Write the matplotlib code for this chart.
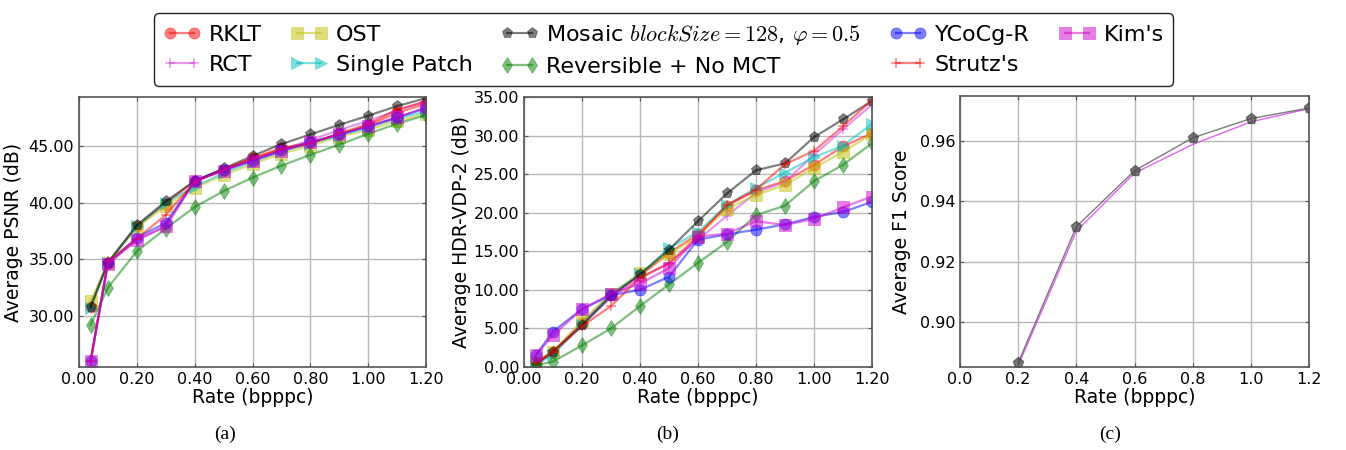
import matplotlib
matplotlib.use("Agg")
import matplotlib.pyplot as plt
from matplotlib.ticker import FormatStrFormatter, MultipleLocator

plt.rcParams['font.family'] = ['DejaVu Sans']
plt.rcParams['mathtext.fontset'] = 'cm'

# ---------------- data ----------------
rates = [0.04, 0.1, 0.2, 0.3, 0.4, 0.5, 0.6, 0.7, 0.8, 0.9, 1.0, 1.1, 1.2]

labels = ["RKLT", "RCT", "OST", "Single Patch",
          r"Mosaic $blockSize=128$, $\varphi=0.5$",
          "Reversible + No MCT", "YCoCg-R", "Strutz's", "Kim's"]

psnr_rklt = [30.8, 34.7, 37.9, 39.9, 41.9, 42.9, 43.9, 44.8, 45.3, 46.0, 46.8, 47.9, 48.7]
psnr_rct = [26.0, 34.6, 36.7, 37.9, 41.9, 42.8, 43.8, 44.6, 45.5, 46.4, 47.2, 48.1, 48.9]
psnr_ost = [31.3, 34.7, 37.8, 39.7, 41.3, 42.4, 43.4, 44.3, 45.0, 45.8, 46.4, 47.2, 47.8]
psnr_single = [30.7, 34.7, 37.9, 40.0, 41.4, 42.6, 43.6, 44.5, 45.2, 45.9, 46.6, 47.4, 48.0]
psnr_mosaic = [30.8, 34.7, 38.0, 40.1, 41.9, 43.0, 44.1, 45.15, 46.0, 46.85, 47.65, 48.5, 49.2]
psnr_rev = [29.2, 32.5, 35.7, 37.7, 39.6, 41.0, 42.2, 43.25, 44.2, 45.1, 46.05, 46.95, 47.7]
psnr_ycocg = [26.0, 34.7, 36.9, 38.2, 41.9, 42.9, 43.7, 44.6, 45.3, 46.0, 46.7, 47.5, 48.3]
psnr_strutz = [26.0, 34.8, 36.8, 38.9, 41.8, 42.9, 43.9, 44.7, 45.2, 46.1, 46.9, 48.2, 48.9]
psnr_kim = [26.0, 34.6, 36.7, 37.9, 41.9, 42.8, 43.7, 44.5, 45.3, 46.0, 46.7, 47.5, 48.4]

vdp_rklt = [0.6, 2.0, 5.7, 9.4, 11.8, 14.8, 17.2, 20.9, 22.9, 24.1, 26.2, 28.6, 30.3]
vdp_rct = [0.4, 1.9, 5.5, 9.0, 11.5, 13.5, 16.5, 19.6, 22.6, 24.0, 27.5, 30.8, 34.0]
vdp_ost = [0.7, 2.0, 6.0, 9.5, 12.2, 14.6, 17.0, 20.5, 22.3, 23.6, 25.8, 27.9, 30.2]
vdp_single = [0.3, 1.6, 5.5, 9.4, 12.0, 15.4, 17.5, 21.0, 23.2, 25.2, 27.2, 28.7, 31.5]
vdp_mosaic = [0.3, 2.0, 5.4, 9.2, 12.0, 15.2, 18.9, 22.5, 25.5, 26.4, 29.8, 32.1, 34.5]
vdp_rev = [0.2, 0.7, 2.8, 5.0, 7.9, 10.7, 13.5, 16.2, 19.7, 20.9, 24.1, 26.2, 29.0]
vdp_ycocg = [1.5, 4.6, 7.5, 9.3, 10.0, 11.7, 16.5, 17.2, 17.8, 18.5, 19.45, 20.1, 21.4]
vdp_strutz = [0.5, 1.9, 5.3, 7.9, 11.6, 13.4, 17.0, 21.0, 23.0, 26.3, 28.0, 31.2, 34.6]
vdp_kim = [1.5, 4.1, 7.5, 9.5, 10.8, 12.8, 16.9, 17.3, 18.9, 18.4, 19.2, 20.7, 22.1]

f1_rates = [0.2, 0.4, 0.6, 0.8, 1.0, 1.2]
f1_mosaic = [0.8864, 0.9316, 0.9502, 0.9611, 0.9675, 0.9710]
f1_rct = [0.8855, 0.9301, 0.9494, 0.9589, 0.9664, 0.9708]

psnr_series = [psnr_rklt, psnr_rct, psnr_ost, psnr_single, psnr_mosaic,
               psnr_rev, psnr_ycocg, psnr_strutz, psnr_kim]
vdp_series = [vdp_rklt, vdp_rct, vdp_ost, vdp_single, vdp_mosaic,
              vdp_rev, vdp_ycocg, vdp_strutz, vdp_kim]

# ---------------- styles ----------------
colors = ['#ff0000', '#cc33dd', '#bfbf00', '#00bfbf', '#000000',
          '#008000', '#0000ff', '#ff0000', '#cc00cc']
markers = ['o', '+', 's', '>', 'p', 'd', 'o', '+', 's']
ALPHA = 0.5

W, H = 1346, 450
fig = plt.figure(figsize=(W / 100, H / 100), dpi=100)


def frac_axes(x0, y0, x1, y1):
    return fig.add_axes([x0 / W, 1 - y1 / H, (x1 - x0) / W, (y1 - y0) / H])


ax_a = frac_axes(79, 97, 426, 367)
ax_b = frac_axes(524, 97, 872, 367)
ax_c = frac_axes(960, 96, 1309, 367)


def style_axes(ax):
    ax.grid(True, color='#b8b8b8', linestyle='-', linewidth=1.0)
    ax.set_axisbelow(True)
    for s in ax.spines.values():
        s.set_color('#555555')
        s.set_linewidth(1.2)
    ax.tick_params(direction='in', length=3, width=0.8, colors='#555555',
                   labelcolor='black', labelsize=11.5, top=True, right=True)


def mstyle(m):
    if m == '+':
        return dict(markersize=7, markeredgewidth=1.1)
    return dict(markersize=8, markeredgewidth=0.5)


handles = []
for ser, c, m, lab in zip(psnr_series, colors, markers, labels):
    h, = ax_a.plot(rates, ser, color=c, marker=m, alpha=ALPHA,
                   linewidth=1.6, markeredgecolor=c, label=lab, **mstyle(m))
    handles.append(h)
for ser, c, m in zip(vdp_series, colors, markers):
    ax_b.plot(rates, ser, color=c, marker=m, alpha=ALPHA,
              linewidth=1.6, markeredgecolor=c, **mstyle(m))

ax_c.plot(f1_rates, f1_rct, color='#dd55ee', alpha=0.9, linewidth=1.0)
ax_c.plot(f1_rates, f1_mosaic, color='#444444', marker='p', markersize=8,
          markeredgecolor='#444444', alpha=0.7, linewidth=1.0)

# panel (a)
ax_a.set_xlim(0, 1.2)
ax_a.set_ylim(25.5, 49.3)
ax_a.xaxis.set_major_locator(MultipleLocator(0.2))
ax_a.yaxis.set_major_locator(MultipleLocator(5))
ax_a.xaxis.set_major_formatter(FormatStrFormatter('%.2f'))
ax_a.yaxis.set_major_formatter(FormatStrFormatter('%.2f'))
ax_a.set_xlabel('Rate (bpppc)', fontsize=13.5, labelpad=1)
ax_a.set_ylabel('Average PSNR (dB)', fontsize=13.5, labelpad=4)

# panel (b)
ax_b.set_xlim(0, 1.2)
ax_b.set_ylim(0, 35)
ax_b.xaxis.set_major_locator(MultipleLocator(0.2))
ax_b.yaxis.set_major_locator(MultipleLocator(5))
ax_b.xaxis.set_major_formatter(FormatStrFormatter('%.2f'))
ax_b.yaxis.set_major_formatter(FormatStrFormatter('%.2f'))
ax_b.set_xlabel('Rate (bpppc)', fontsize=13.5, labelpad=1)
ax_b.set_ylabel('Average HDR-VDP-2 (dB)', fontsize=13.5, labelpad=2)

# panel (c)
ax_c.set_xlim(0, 1.2)
ax_c.set_ylim(0.885, 0.975)
ax_c.xaxis.set_major_locator(MultipleLocator(0.2))
ax_c.yaxis.set_major_locator(MultipleLocator(0.02))
ax_c.xaxis.set_major_formatter(FormatStrFormatter('%.1f'))
ax_c.yaxis.set_major_formatter(FormatStrFormatter('%.2f'))
ax_c.set_xlabel('Rate (bpppc)', fontsize=13.5, labelpad=1)
ax_c.set_ylabel('Average F1 Score', fontsize=13.5, labelpad=6)

for ax in (ax_a, ax_b, ax_c):
    style_axes(ax)

leg = fig.legend(handles=handles, labels=labels, loc='upper center',
                 bbox_to_anchor=(663.5 / W, 1 - 2 / H), ncol=5, fontsize=16,
                 numpoints=2, handlelength=1.7, handletextpad=0.35,
                 columnspacing=1.27, labelspacing=0.45, borderpad=0.4,
                 fancybox=True, framealpha=1.0)
leg.get_frame().set_edgecolor('#222222')
leg.get_frame().set_linewidth(1.0)

for lab, xc in (('(a)', 225), ('(b)', 668), ('(c)', 1110)):
    fig.text(xc / W, 1 - 434 / H, lab, ha='center', va='center',
             fontsize=14, family='Liberation Serif')

fig.savefig('out.png', dpi=100)
